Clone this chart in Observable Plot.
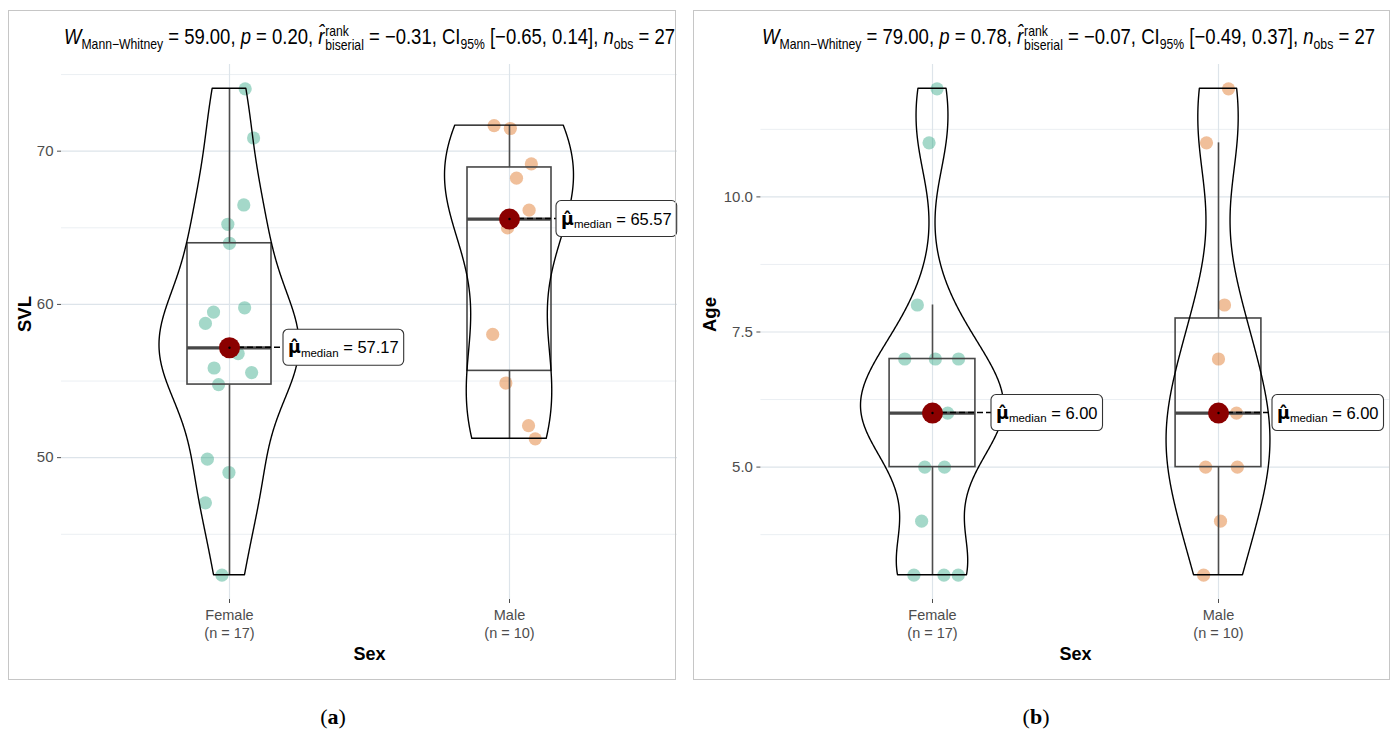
<!DOCTYPE html>
<html>
<head>
<meta charset="utf-8">
<script src="https://cdn.jsdelivr.net/npm/d3@7"></script>
<script src="https://cdn.jsdelivr.net/npm/@observablehq/plot@0.6"></script>
<style>
  html, body { margin: 0; padding: 0; background: #fff; }
  body { width: 1394px; height: 731px; position: relative; overflow: hidden; font-family: "Liberation Sans", Arial, sans-serif; }
  .frame { position: absolute; border: 1px solid #c6c6c6; box-sizing: border-box; pointer-events: none; }
  .plotwrap { position: absolute; top: 0; }
  .plotwrap svg { display: block; }
  .title { position: absolute; white-space: nowrap; font-size: 21.5px; line-height: 24px; color: #000; transform-origin: 0 0; }
  .title sub { font-size: 0.66em; vertical-align: -0.32em; line-height: 0; }
  .title .ss { display: inline-block; vertical-align: -0.42em; font-size: 0.66em; line-height: 0.95em; margin-left: 1px; }
  .title .ss span { display: block; }
  .cap { position: absolute; top: 703px; width: 80px; text-align: center; font-family: "Liberation Serif", "DejaVu Serif", serif; font-size: 22px; line-height: 28px; }
</style>
</head>
<body>
<div id="pa" class="plotwrap" style="left:0px;width:690px"></div>
<div id="pb" class="plotwrap" style="left:690px;width:704px"></div>
<div class="frame" style="left:8px;top:10px;width:668px;height:670px"></div>
<div class="frame" style="left:693px;top:10px;width:697px;height:670px"></div>
<div id="ta" class="title" style="left:64px;top:25px"></div>
<div id="tb" class="title" style="left:762px;top:25px"></div>
<div class="cap" style="left:293px">(<b>a</b>)</div>
<div class="cap" style="left:996px">(<b>b</b>)</div>
<script>
// ---------------- data ----------------
const groups = ["Female", "Male"];
const pointColors = ["#1B9E77", "#D95F02"];

// Panel (a): SVL
const svlFemale = [74.07, 70.86, 66.49, 65.23, 63.99, 59.78, 59.50, 58.76, 57.17, 56.79, 55.85, 55.55, 54.77, 49.90, 49.03, 47.05, 42.33];
const svlFemaleJitter = [0.056, 0.086, 0.051, -0.006, 0.000, 0.054, -0.057, -0.086, -0.010, 0.031, -0.055, 0.079, -0.039, -0.079, -0.002, -0.086, -0.027];
const svlMale = [71.67, 71.48, 69.17, 68.24, 66.15, 64.99, 58.04, 54.87, 52.09, 51.23];
const svlMaleJitter = [-0.055, 0.003, 0.078, 0.025, 0.070, -0.007, -0.060, -0.013, 0.068, 0.092];

// Panel (b): Age
const ageFemale = [12, 11, 8, 7, 7, 7, 6, 6, 6, 6, 6, 5, 5, 4, 3, 3, 3];
const ageFemaleJitter = [0.016, -0.012, -0.053, -0.097, 0.010, 0.091, 0.053, -0.014, 0.010, -0.007, 0.003, -0.027, 0.042, -0.038, -0.065, 0.040, 0.090];
const ageMale = [12, 11, 8, 7, 6, 6, 5, 5, 4, 3];
const ageMaleJitter = [0.035, -0.042, 0.021, 0.000, 0.063, 0.003, -0.045, 0.066, 0.007, -0.052];

// axis ticks
const svlTicks = [50, 60, 70];
const svlMinor = [45, 55, 65, 75];
const ageTicks = [5, 7.5, 10];
const ageMinor = [3.75, 6.25, 8.75, 11.25];

// test statistics (subtitles)
const wStat = ["59.00", "79.00"];
const pValue = ["0.20", "0.78"];
const rBiserial = ["−0.31", "−0.07"];
const ciLow = ["−0.65", "−0.49"];
const ciHigh = ["0.14", "0.37"];
const nObs = [27, 27];

// ---------------- helpers ----------------
function bwNrd0(x) {
  const s = d3.deviation(x);
  const sorted = x.slice().sort(d3.ascending);
  const iqr = d3.quantileSorted(sorted, 0.75) - d3.quantileSorted(sorted, 0.25);
  let lo = Math.min(s, iqr / 1.34);
  if (!(lo > 0)) lo = s || Math.abs(x[0]) || 1;
  return 0.9 * lo * Math.pow(x.length, -0.2);
}
function kde(x, n = 512) {
  const bw = bwNrd0(x), [a, b] = d3.extent(x);
  const out = [];
  for (let i = 0; i < n; i++) {
    const y = a + (b - a) * i / (n - 1);
    let s = 0;
    for (const v of x) { const u = (y - v) / bw; s += Math.exp(-0.5 * u * u); }
    out.push({y, d: s / (x.length * bw * Math.sqrt(2 * Math.PI))});
  }
  return out;
}
const canvas = document.createElement("canvas");
const cctx = canvas.getContext("2d");
function measure(font, text) { cctx.font = font; return cctx.measureText(text).width; }
const FONT = "'Liberation Sans', Arial, sans-serif";
const MUFONT = "'DejaVu Sans', sans-serif";

function makePanel(cfg) {
  const {series, jitters, ticks, minor, tickFmt, width, height, marginLeft, marginRight, marginTop, marginBottom, yLabel, yLabelDx, labelDx} = cfg;
  const all = series.flat();
  const [lo, hi] = d3.extent(all);
  const pad = (hi - lo) * 0.05;
  const points = series.flatMap((vals, gi) => vals.map((v, k) => ({pos: gi + 1, v, j: jitters[gi][k], g: gi})));
  const stats = series.map((vals, gi) => {
    const s = vals.slice().sort(d3.ascending);
    const q1 = d3.quantileSorted(s, 0.25), q3 = d3.quantileSorted(s, 0.75), iqr = q3 - q1;
    return {
      pos: gi + 1, g: gi, n: s.length, q1, q3, median: d3.median(s),
      wlo: d3.min(s.filter(v => v >= q1 - 1.5 * iqr)),
      whi: d3.max(s.filter(v => v <= q3 + 1.5 * iqr))
    };
  });
  const dens = series.map(v => kde(v));
  const dmax = d3.max(dens.flat(), d => d.d);
  const violin = dens.flatMap((arr, gi) => arr.map(p => ({g: gi, pos: gi + 1, y: p.y, w: 0.25 * p.d / dmax})));

  const labelMark = (index, scales) => {
    const g = d3.create("svg:g").attr("text-anchor", "start");
    stats.forEach((st, i) => {
      const cx = scales.x(st.pos), cy = scales.y(st.median);
      const lx = cx + labelDx[i];
      const val = " = " + st.median.toFixed(2);
      const fMu = `bold 17.5px ${MUFONT}`, fSub = `11.5px ${FONT}`, fVal = `16.5px ${FONT}`;
      const tw = measure(fMu, "μ") + measure(fSub, "median") + measure(fVal, val);
      const padX = 5, bw = tw + 2 * padX, bh = 36;
      g.append("line").attr("x1", cx).attr("y1", cy).attr("x2", lx).attr("y2", cy)
        .attr("stroke", "#000").attr("stroke-width", 1.6).attr("stroke-dasharray", "6,3");
      g.append("rect").attr("x", lx).attr("y", cy - bh / 2).attr("width", bw).attr("height", bh)
        .attr("rx", 5).attr("ry", 5).attr("fill", "#fff").attr("stroke", "#333").attr("stroke-width", 1.1);
      const t = g.append("text").attr("x", lx + padX).attr("y", cy + 6).attr("fill", "#000");
      t.append("tspan").attr("font-weight", "bold").attr("font-size", 17.5).attr("font-family", MUFONT).text("μ\u0302");
      t.append("tspan").attr("font-size", 11.5).attr("dy", 3.5).text("median");
      t.append("tspan").attr("font-size", 16.5).attr("dy", -3.5).text(val);
    });
    return g.node();
  };

  return Plot.plot({
    width, height, marginLeft, marginRight, marginTop, marginBottom,
    style: {background: "transparent", fontFamily: FONT, overflow: "visible"},
    x: {type: "linear", domain: [0.4, 2.6]},
    y: {domain: [lo - pad, hi + pad]},
    marks: [
      Plot.ruleY(minor, {stroke: "#ebeff3", strokeWidth: 1}),
      Plot.ruleY(ticks, {stroke: "#dde4ea", strokeWidth: 1.2}),
      Plot.ruleX([1, 2], {stroke: "#dde4ea", strokeWidth: 1.2}),
      Plot.axisY(ticks, {tickSize: 4, tickPadding: 4, tickFormat: tickFmt, fontSize: 15, color: "#4d4d4d", label: null}),
      Plot.axisX([1, 2], {
        tickSize: 4, tickPadding: 4, fontSize: 14.5, lineHeight: 1.22, color: "#4d4d4d", label: null,
        tickFormat: d => `${groups[d - 1]}\n(n = ${stats[d - 1].n})`
      }),
      Plot.text([yLabel], {frameAnchor: "left", dx: yLabelDx, rotate: -90, fontSize: 18.5, fontWeight: "bold", fill: "#000"}),
      Plot.text(["Sex"], {frameAnchor: "bottom", dy: 60, fontSize: 18, fontWeight: "bold", fill: "#000"}),
      Plot.dot(points, {x: d => d.pos + d.j, y: "v", r: 6.6, fill: d => pointColors[d.g], fillOpacity: 0.4, stroke: null}),
      Plot.ruleX(stats, {x: "pos", y1: "q3", y2: "whi", stroke: "#4d4d4d", strokeWidth: 1.6}),
      Plot.ruleX(stats, {x: "pos", y1: "wlo", y2: "q1", stroke: "#4d4d4d", strokeWidth: 1.6}),
      Plot.rect(stats, {x1: d => d.pos - 0.15, x2: d => d.pos + 0.15, y1: "q1", y2: "q3", fill: "none", stroke: "#474747", strokeWidth: 1.6}),
      Plot.ruleY(stats, {y: "median", x1: d => d.pos - 0.15, x2: d => d.pos + 0.15, stroke: "#474747", strokeWidth: 3.2}),
      Plot.areaX(violin, {y: "y", x1: d => d.pos - d.w, x2: d => d.pos + d.w, z: "g", fill: "none", stroke: "#000", strokeWidth: 1.4}),
      labelMark,
      Plot.dot(stats, {x: "pos", y: "median", r: 10.5, fill: "#8b0000", stroke: null}),
      Plot.dot(stats, {x: "pos", y: "median", r: 1.2, fill: "#000", stroke: null})
    ]
  });
}

// ---------------- render ----------------
const plotA = makePanel({
  series: [svlFemale, svlMale], jitters: [svlFemaleJitter, svlMaleJitter],
  ticks: svlTicks, minor: svlMinor, tickFmt: d3.format("d"),
  width: 690, height: 690, marginLeft: 61, marginRight: 13, marginTop: 64, marginBottom: 91,
  yLabel: "SVL", yLabelDx: -36, labelDx: [54, 47]
});
document.getElementById("pa").appendChild(plotA);

const plotB = makePanel({
  series: [ageFemale, ageMale], jitters: [ageFemaleJitter, ageMaleJitter],
  ticks: ageTicks, minor: ageMinor, tickFmt: d3.format(".1f"),
  width: 704, height: 690, marginLeft: 70.4, marginRight: 4.4, marginTop: 64, marginBottom: 91,
  yLabel: "Age", yLabelDx: -51, labelDx: [59, 54]
});
document.getElementById("pb").appendChild(plotB);

// ---------------- subtitles ----------------
function subtitle(el, i, targetWidth) {
  el.innerHTML =
    `<i>W</i><sub>Mann\u2212Whitney</sub> = ${wStat[i]}, <i>p</i> = ${pValue[i]}, ` +
    `<i>r\u0302</i><span class="ss"><span>rank</span><span>biserial</span></span> = ${rBiserial[i]}, ` +
    `CI<sub>95%</sub> [${ciLow[i]}, ${ciHigh[i]}], <i>n</i><sub>obs</sub> = ${nObs[i]}`;
  const w = el.getBoundingClientRect().width;
  el.style.transform = `scaleX(${targetWidth / w})`;
}
subtitle(document.getElementById("ta"), 0, 611);
subtitle(document.getElementById("tb"), 1, 613);
</script>
</body>
</html>
